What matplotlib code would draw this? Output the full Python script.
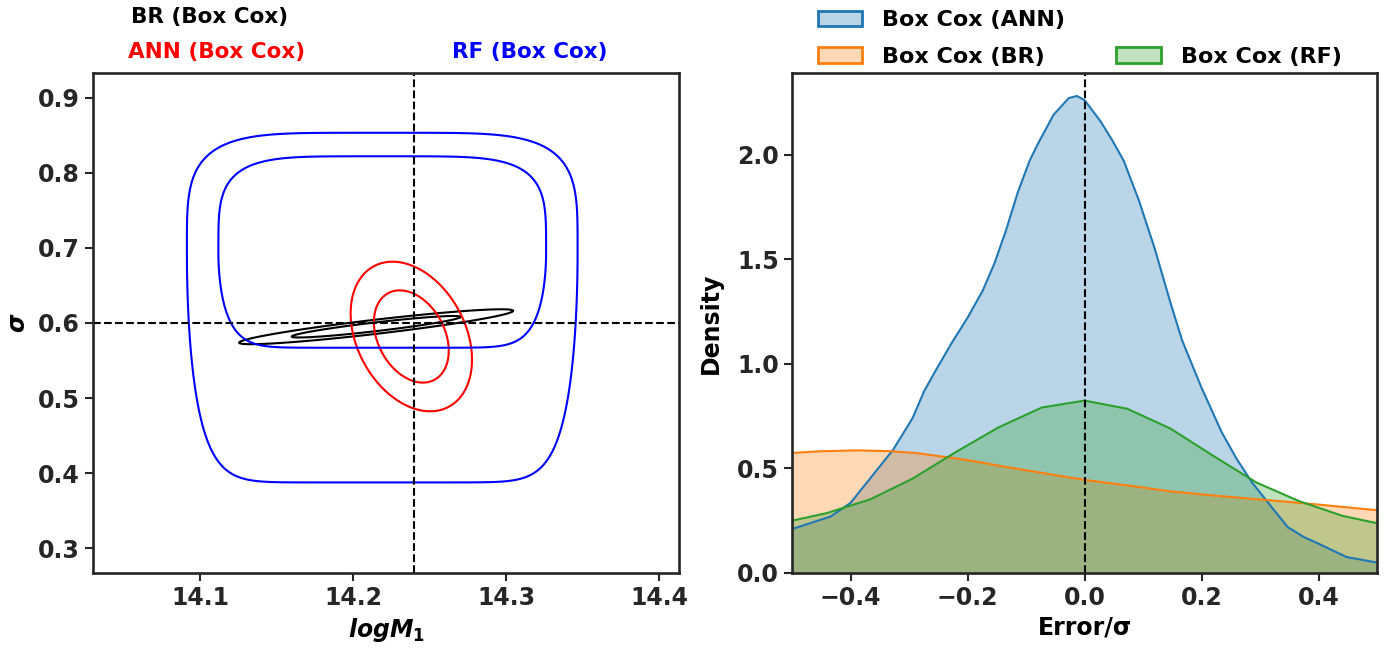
import numpy as np
import matplotlib
matplotlib.use("Agg")
import matplotlib.pyplot as plt
from matplotlib.patches import Patch
from matplotlib.colors import to_rgba

plt.rcParams['font.family'] = ['DejaVu Sans']
plt.rcParams['font.weight'] = 'bold'
plt.rcParams['axes.labelweight'] = 'bold'
plt.rcParams['mathtext.fontset'] = 'custom'
plt.rcParams['mathtext.it'] = 'DejaVu Sans:italic:bold'
plt.rcParams['mathtext.rm'] = 'DejaVu Sans:bold'
plt.rcParams['axes.edgecolor'] = '#262626'
plt.rcParams['axes.linewidth'] = 1.9
plt.rcParams['xtick.color'] = '#262626'
plt.rcParams['ytick.color'] = '#262626'

# ---- left panel: 2D contours (logM1, sigma) ----
true_logm1 = 14.24
true_sigma = 0.6
mass_levels = [0.68, 0.95]

# gaussian-like posteriors: centre, widths, correlation
br_centre = [14.215, 0.595]
br_width = [0.0366, 0.0095]
br_rho = 0.913

ann_centre = [14.238, 0.582]
ann_width = [0.0162, 0.0407]
ann_rho = -0.31

# RF posterior is boxy with a long tail towards low sigma
rf_centre = [14.219, 0.6945]
rf_scale = [0.1213, 0.149, 0.2376]     # x half width, sigma above / below centre
rf_levels = [0.2877, 1.668]            # -log density of the two contours

# ---- right panel: error densities ----
ann_x = [-0.5, -0.434, -0.4, -0.367, -0.327, -0.294, -0.274, -0.254, -0.227, -0.2, -0.174, -0.154,
         -0.134, -0.114, -0.094, -0.08, -0.053, -0.027, -0.013, 0.0, 0.027, 0.047, 0.067,
         0.093, 0.12, 0.147, 0.167, 0.2, 0.234, 0.26, 0.287, 0.314, 0.347, 0.374, 0.4,
         0.448, 0.5]
ann_y = [0.21, 0.27, 0.335, 0.45, 0.59, 0.74, 0.87, 0.97, 1.1, 1.22, 1.35, 1.48,
         1.64, 1.82, 1.97, 2.05, 2.19, 2.27, 2.28, 2.26, 2.16, 2.07, 1.97,
         1.78, 1.55, 1.29, 1.11, 0.885, 0.675, 0.545, 0.43, 0.335, 0.22, 0.173, 0.14,
         0.076, 0.05]
br_x = [-0.5, -0.45, -0.387, -0.33, -0.287, -0.2, -0.147, -0.087, 0.0, 0.08, 0.147, 0.214, 0.314, 0.4, 0.5]
br_y = [0.574, 0.582, 0.586, 0.582, 0.573, 0.54, 0.513, 0.485, 0.445, 0.416, 0.39, 0.372, 0.348, 0.327, 0.30]
rf_x = [-0.5, -0.441, -0.367, -0.294, -0.22, -0.147, -0.073, 0.0, 0.073, 0.147, 0.22, 0.294, 0.367, 0.441, 0.5]
rf_y = [0.25, 0.286, 0.351, 0.451, 0.578, 0.696, 0.791, 0.824, 0.785, 0.69, 0.56, 0.432, 0.343, 0.273, 0.238]

kde_labels = ['Box Cox (ANN)', 'Box Cox (BR)', 'Box Cox (RF)']
kde_colors = ['#1f77b4', '#ff7f0e', '#2ca02c']


def mahal2(X, Y, centre, width, rho):
    dx = (X - centre[0]) / width[0]
    dy = (Y - centre[1]) / width[1]
    return (dx**2 - 2*rho*dx*dy + dy**2) / (1 - rho**2)


fig = plt.figure(figsize=(13.91, 6.55), dpi=100)
ax1 = fig.add_axes([0.0669, 0.1252, 0.4213, 0.7634])
ax2 = fig.add_axes([0.5694, 0.1252, 0.4206, 0.7634])

gx = np.linspace(14.03, 14.413, 800)
gy = np.linspace(0.267, 0.933, 800)
X, Y = np.meshgrid(gx, gy)
k2 = sorted(-2*np.log(1 - np.array(mass_levels)))

ax1.contour(X, Y, mahal2(X, Y, br_centre, br_width, br_rho), levels=k2, colors='black', linewidths=1.5)
ax1.contour(X, Y, mahal2(X, Y, ann_centre, ann_width, ann_rho), levels=k2, colors='red', linewidths=1.5)

# boxy top (rounded corners), gaussian-like fall-off below the peak
a = np.abs((X - rf_centre[0]) / rf_scale[0])**10
dy = Y - rf_centre[1]
b_up = np.abs(np.clip(dy, 0, None) / rf_scale[1])**8
b_dn = (np.clip(-dy, 0, None) / rf_scale[2])**2
energy = np.where(dy > 0, (np.sqrt(a) + np.sqrt(b_up))**2, a + b_dn)
ax1.contour(X, Y, energy, levels=rf_levels, colors='blue', linewidths=1.5)

ax1.axvline(true_logm1, color='black', ls='--', lw=1.5)
ax1.axhline(true_sigma, color='black', ls='--', lw=1.5)
ax1.set_xlim(14.03, 14.413)
ax1.set_ylim(0.267, 0.933)
ax1.set_xticks([14.1, 14.2, 14.3, 14.4])
ax1.set_yticks([0.3, 0.4, 0.5, 0.6, 0.7, 0.8, 0.9])
ax1.set_xlabel(r'$logM_1$', fontsize=17)
ax1.set_ylabel(r'$\sigma$', fontsize=17, labelpad=6)
ax1.text(0.065, 1.112, 'BR (Box Cox)', color='black', fontsize=15.5, va='center', transform=ax1.transAxes)
ax1.text(0.059, 1.042, 'ANN (Box Cox)', color='red', fontsize=15.5, va='center', transform=ax1.transAxes)
ax1.text(0.612, 1.042, 'RF (Box Cox)', color='blue', fontsize=15.5, va='center', transform=ax1.transAxes)

for xs, ys, c in zip([ann_x, br_x, rf_x], [ann_y, br_y, rf_y], kde_colors):
    ax2.fill_between(xs, ys, color=c, alpha=0.3, lw=0)
    ax2.plot(xs, ys, color=c, lw=1.5)
ax2.axvline(0.0, color='black', ls='--', lw=1.5)
ax2.set_xlim(-0.5, 0.5)
ax2.set_ylim(0, 2.39)
ax2.set_xticks([-0.4, -0.2, 0.0, 0.2, 0.4])
ax2.set_yticks([0.0, 0.5, 1.0, 1.5, 2.0])
ax2.set_xlabel('Error/σ', fontsize=17)
ax2.set_ylabel('Density', fontsize=17, labelpad=10)

handles = [Patch(facecolor=to_rgba(c, 0.3), edgecolor=c, lw=2) for c in kde_colors]
blank = Patch(facecolor='none', edgecolor='none')
ax2.legend([handles[0], handles[1], blank, handles[2]], [kde_labels[0], kde_labels[1], '', kde_labels[2]],
           ncol=2, loc='lower left', bbox_to_anchor=(0.044, 1.012), frameon=False, fontsize=16,
           borderpad=0, borderaxespad=0, columnspacing=2.3, labelspacing=0.75, handletextpad=0.9)

for ax in (ax1, ax2):
    ax.tick_params(labelsize=17, width=1.5, length=6, direction='out')
    for lab in ax.get_xticklabels() + ax.get_yticklabels():
        lab.set_fontweight('bold')

fig.savefig('out.png', dpi=100)
